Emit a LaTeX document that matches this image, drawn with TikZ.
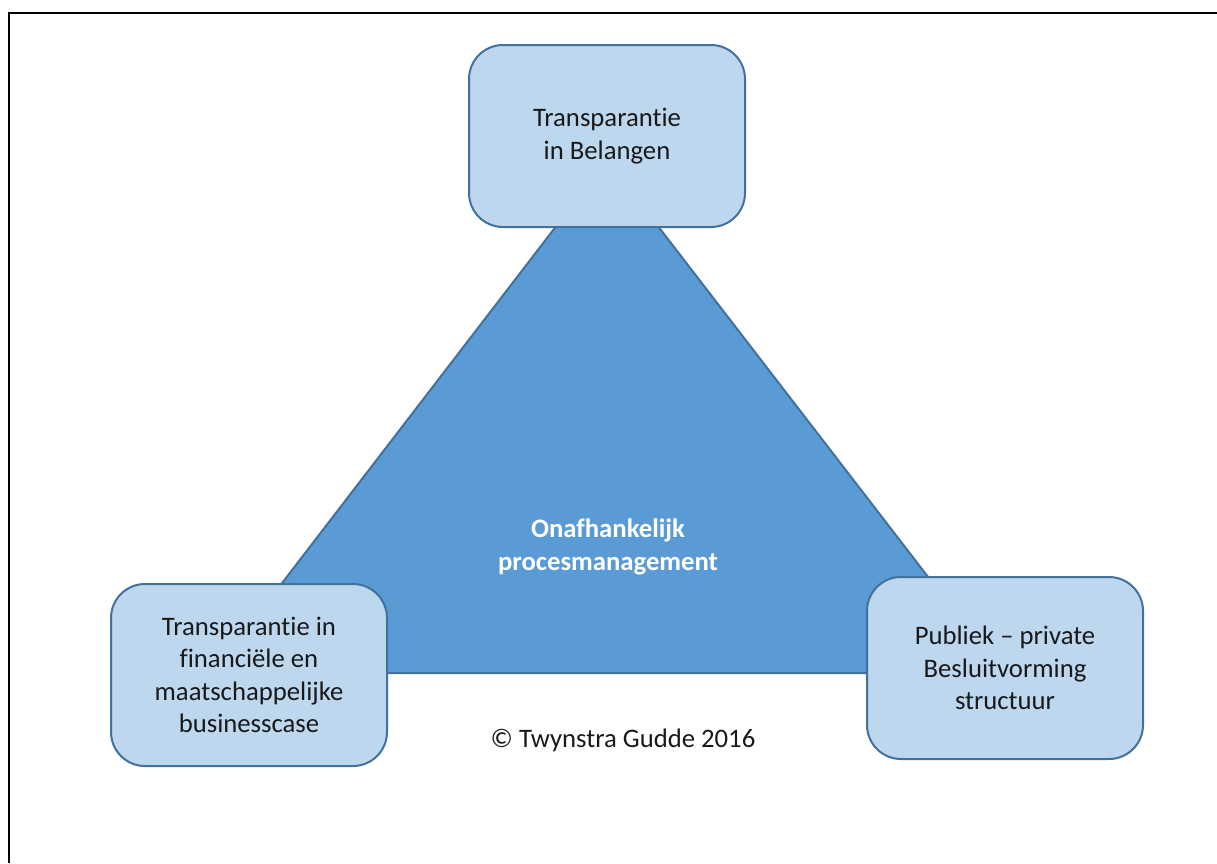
\documentclass[tikz,border=0pt]{standalone}
\usepackage{fontspec}
\setmainfont[Ligatures={NoCommon}]{Carlito}
\begin{document}
\begin{tikzpicture}[x=1pt,y=-1pt,
  boxstyle/.style={draw=boxedge,fill=boxfill,line width=2pt,rounded corners=34pt,
    minimum width=276pt,minimum height=182pt,align=center,
    font=\fontsize{26.7}{32.5}\selectfont,text=black!90},
  triangle/.style={draw=triedge,fill=trifill,line width=2pt,line join=miter}]
\definecolor{boxfill}{HTML}{BDD7EE}
\definecolor{boxedge}{HTML}{41719C}
\definecolor{trifill}{HTML}{5B9BD5}
\definecolor{triedge}{HTML}{41719C}
\useasboundingbox (0,0) rectangle (1217,863);
% page frame, open at the right and bottom
\draw[line width=2.3pt] (9,863) -- (9,13) -- (1217,13);
% central triangle
\coordinate (apex) at (607,160);
\coordinate (bl) at (213,673);
\coordinate (br) at (1002,673);
\draw[triangle] (apex) -- (bl) -- (br) -- cycle;
\node[text=white,align=center,font=\bfseries\fontsize{26.7}{33}\selectfont] (center) at (608,547)
  {Onafhankelijk\\procesmanagement};
% corner boxes
\node[boxstyle] (top) at (607,136) {Transparantie\\in Belangen};
\node[boxstyle] (left) at (249,675) {Transparantie in\\financiële en\\maatschappelijke\\businesscase};
\node[boxstyle] (right) at (1005,668) {Publiek – private\\Besluitvorming\\structuur};
\node[font=\fontsize{26.7}{32}\selectfont,text=black!90] (copy) at (623,740) {© Twynstra Gudde 2016};
\end{tikzpicture}
\end{document}
